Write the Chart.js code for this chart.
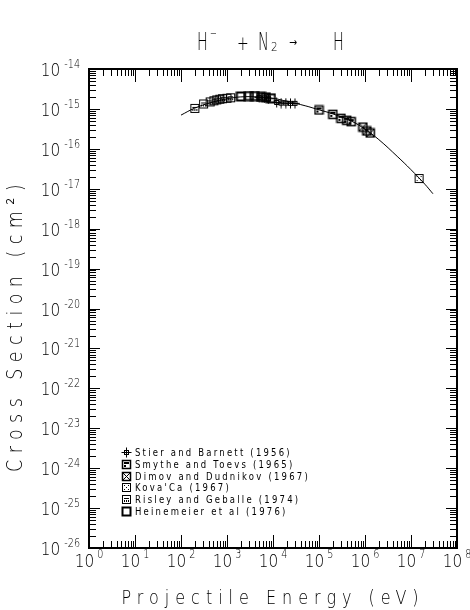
<!DOCTYPE html>
<html>
<head>
<meta charset="utf-8">
<script src="https://cdn.jsdelivr.net/npm/chart.js@4.4.0/dist/chart.umd.min.js"></script>
<style>
  body { margin: 0; background: #fff; }
  #chart { display: block; }
</style>
</head>
<body>
<canvas id="chart" width="470" height="610"></canvas>
<script>
// fitted curve
const curveE     = [1e2, 2e2, 5e2, 1e3, 2e3, 5e3, 1e4, 2e4, 5e4, 1e5, 2e5, 5e5, 1e6, 2e6, 5e6, 1e7, 2e7, 3e7];
const curveSigma = [7.0e-16, 1.05e-15, 1.5e-15, 1.8e-15, 2.0e-15, 2.0e-15, 1.85e-15, 1.55e-15, 1.2e-15, 9.5e-16, 7.5e-16, 5.0e-16, 3.1e-16, 1.7e-16, 6.5e-17, 3.0e-17, 1.3e-17, 7.5e-18];

// measurements
const stierE = [5e3, 6.5e3, 8e3, 1.2e4, 1.5e4, 1.9e4, 2.4e4, 3.0e4];
const stierS = [1.95e-15, 1.9e-15, 1.8e-15, 1.45e-15, 1.4e-15, 1.4e-15, 1.38e-15, 1.38e-15];
const smytheE = [1e5, 2e5, 3e5, 4e5, 5e5];
const smytheS = [9.4e-16, 7.3e-16, 5.8e-16, 5.2e-16, 4.8e-16];
const dimovE = [9e5, 1.1e6, 1.3e6];
const dimovS = [3.5e-16, 2.8e-16, 2.5e-16];
const kovaE = [1.5e7];
const kovaS = [1.8e-17];
const risleyE = [2e2, 3.1e2, 4.3e2, 5.2e2, 6e2, 7e2, 8e2, 1e3, 1.2e3];
const risleyS = [1.03e-15, 1.33e-15, 1.5e-15, 1.6e-15, 1.68e-15, 1.75e-15, 1.8e-15, 1.85e-15, 1.9e-15];
const heineE = [2e3, 3e3, 4e3, 5.5e3, 7e3, 9e3];
const heineS = [2.05e-15, 2.1e-15, 2.1e-15, 2.0e-15, 1.95e-15, 1.85e-15];

const legendLabels = ['Stier and Barnett (1956)', 'Smythe and Toevs (1965)', 'Dimov and Dudnikov (1967)',
                      "Kova'Ca (1967)", 'Risley and Geballe (1974)', 'Heinemeier et al (1976)'];

const xDecades = [0, 1, 2, 3, 4, 5, 6, 7, 8];
const yDecades = [-14, -15, -16, -17, -18, -19, -20, -21, -22, -23, -24, -25, -26];

function pts(xs, ys) { return xs.map((x, i) => ({x: x, y: ys[i]})); }

// marker glyphs
function marker(kind) {
  const s = 11, c = document.createElement('canvas');
  c.width = s; c.height = s;
  const g = c.getContext('2d');
  g.strokeStyle = '#000'; g.fillStyle = '#000'; g.lineWidth = 1;
  const box = (lw) => { g.lineWidth = lw; g.strokeRect(1.5, 1.5, 8, 8); g.lineWidth = 1; };
  if (kind == 'stier') {
    g.beginPath();
    g.moveTo(5.5, 0.5); g.lineTo(5.5, 10.5);
    g.moveTo(0.5, 5.5); g.lineTo(10.5, 5.5);
    g.stroke();
    g.strokeRect(3.5, 3.5, 4, 4);
  } else if (kind == 'smythe') {
    box(1.5);
    g.fillRect(3, 3, 5, 2); g.fillRect(3, 6, 2, 2);
  } else if (kind == 'dimov') {
    box(1.5);
    g.beginPath(); g.moveTo(2, 2); g.lineTo(9, 9); g.moveTo(9, 2); g.lineTo(2, 9); g.stroke();
  } else if (kind == 'kova') {
    box(1);
    for (let i = 3; i < 9; i += 2) for (let j = 3; j < 9; j += 2) if ((i + j) % 4 == 2) g.fillRect(i, j, 1, 1);
  } else if (kind == 'risley') {
    box(1);
    g.fillRect(3, 4, 5, 1); g.fillRect(3, 6, 1, 2); g.fillRect(5, 6, 1, 2); g.fillRect(7, 6, 1, 2);
  } else {
    box(2);
  }
  return c;
}
const markers = {
  stier: marker('stier'), smythe: marker('smythe'), dimov: marker('dimov'),
  kova: marker('kova'), risley: marker('risley'), heine: marker('heine')
};

function ds(label, xs, ys, m) {
  return { type: 'scatter', label: label, data: pts(xs, ys), pointStyle: markers[m], pointRadius: 5, showLine: false };
}

function txt(ctx, s, x, y, size, align, sx, weight) {
  ctx.save();
  ctx.font = (weight || 'normal') + ' ' + size + 'px "DejaVu Sans"';
  ctx.textAlign = align || 'left';
  ctx.textBaseline = 'alphabetic';
  ctx.translate(x, y);
  ctx.scale(sx || 1, 1);
  ctx.fillText(s, 0, 0);
  ctx.restore();
}
function txtWidth(ctx, s, size, sx) {
  ctx.font = 'normal ' + size + 'px "DejaVu Sans"';
  return ctx.measureText(s).width * (sx || 1);
}

const framePlugin = {
  id: 'frame',
  afterDraw(chart) {
    const ctx = chart.ctx, a = chart.chartArea;
    const xs = chart.scales.x, ys = chart.scales.y;
    ctx.save();
    ctx.strokeStyle = '#000'; ctx.fillStyle = '#000';
    ctx.lineWidth = 2;
    ctx.strokeRect(a.left, a.top, a.right - a.left, a.bottom - a.top);
    ctx.lineWidth = 1;
    ctx.beginPath();
    // x ticks, inward on bottom and top
    for (let d = 0; d < 8; d++) {
      for (let m = 1; m < 10; m++) {
        const px = Math.round(xs.getPixelForValue(m * Math.pow(10, d))) + 0.5;
        const len = m == 1 ? 13 : 7;
        ctx.moveTo(px, a.bottom); ctx.lineTo(px, a.bottom - len);
        ctx.moveTo(px, a.top); ctx.lineTo(px, a.top + len);
      }
    }
    // y ticks, inward on left and right
    for (let d = -26; d < -14; d++) {
      for (let m = 1; m < 10; m++) {
        const py = Math.round(ys.getPixelForValue(m * Math.pow(10, d))) + 0.5;
        const len = m == 1 ? 11 : 7;
        ctx.moveTo(a.left, py); ctx.lineTo(a.left + len, py);
        ctx.moveTo(a.right, py); ctx.lineTo(a.right - len, py);
      }
    }
    ctx.stroke();

    // tick labels
    xDecades.forEach(d => {
      const px = xs.getPixelForValue(Math.pow(10, d));
      const w1 = txtWidth(ctx, '10', 18, 0.85), w2 = txtWidth(ctx, String(d), 12, 0.8);
      const x0 = px - (w1 + w2 + 3) / 2;
      txt(ctx, '10', x0, 567, 18, 'left', 0.85, 300);
      txt(ctx, String(d), x0 + w1 + 3, 558, 12, 'left', 0.8, 300);
    });
    yDecades.forEach(d => {
      const py = ys.getPixelForValue(Math.pow(10, d));
      const e = '-' + String(-d);
      const w2 = txtWidth(ctx, e, 12, 0.8);
      txt(ctx, e, 80, py - 1, 12, 'right', 0.8, 300);
      txt(ctx, '10', 80 - w2 - 4, py + 7, 18, 'right', 0.85, 300);
    });

    // title
    txt(ctx, 'H', 197, 50, 24, 'left', 0.6, 300);
    txt(ctx, '\u2212', 210, 38, 14, 'left', 0.6, 300);
    txt(ctx, '+', 237, 50, 20, 'left', 0.7, 300);
    txt(ctx, 'N', 258, 50, 24, 'left', 0.6, 300);
    txt(ctx, '2', 271, 51, 13, 'left', 0.8, 300);
    txt(ctx, '\u2192', 289, 46, 12, 'left', 0.8);
    txt(ctx, 'H', 333, 50, 24, 'left', 0.6, 300);

    // axis titles
    ctx.save();
    ctx.letterSpacing = '7.5px';
    txt(ctx, 'Projectile Energy (eV)', 273, 604, 20, 'center', 0.8, 300);
    ctx.translate(22, 325);
    ctx.rotate(-Math.PI / 2);
    ctx.letterSpacing = '8px';
    txt(ctx, 'Cross Section (cm\u00b2)', 0, 0, 22, 'center', 0.8, 300);
    ctx.restore();

    // legend
    const keys = ['stier', 'smythe', 'dimov', 'kova', 'risley', 'heine'];
    legendLabels.forEach((lab, i) => {
      const y = 452 + i * 11.8;
      ctx.drawImage(markers[keys[i]], 121, Math.round(y - 5));
      ctx.save();
      ctx.letterSpacing = '2.6px';
      txt(ctx, lab, 135, y + 4, 10, 'left', 0.85);
      ctx.restore();
    });
    ctx.restore();
  }
};

new Chart(document.getElementById('chart'), {
  type: 'scatter',
  data: {
    datasets: [
      { type: 'line', label: 'fit', data: pts(curveE, curveSigma), borderColor: '#000', borderWidth: 1,
        pointRadius: 0, tension: 0.4, fill: false },
      ds(legendLabels[0], stierE, stierS, 'stier'),
      ds(legendLabels[1], smytheE, smytheS, 'smythe'),
      ds(legendLabels[2], dimovE, dimovS, 'dimov'),
      ds(legendLabels[3], kovaE, kovaS, 'kova'),
      ds(legendLabels[4], risleyE, risleyS, 'risley'),
      ds(legendLabels[5], heineE, heineS, 'heine')
    ]
  },
  options: {
    responsive: false,
    animation: false,
    layout: { padding: { left: 89, top: 69, right: 13, bottom: 62 } },
    plugins: { legend: { display: false }, tooltip: { enabled: false } },
    scales: {
      x: { type: 'logarithmic', min: 1, max: 1e8, display: false },
      y: { type: 'logarithmic', min: 1e-26, max: 1e-14, display: false }
    }
  },
  plugins: [framePlugin]
});
</script>
</body>
</html>
